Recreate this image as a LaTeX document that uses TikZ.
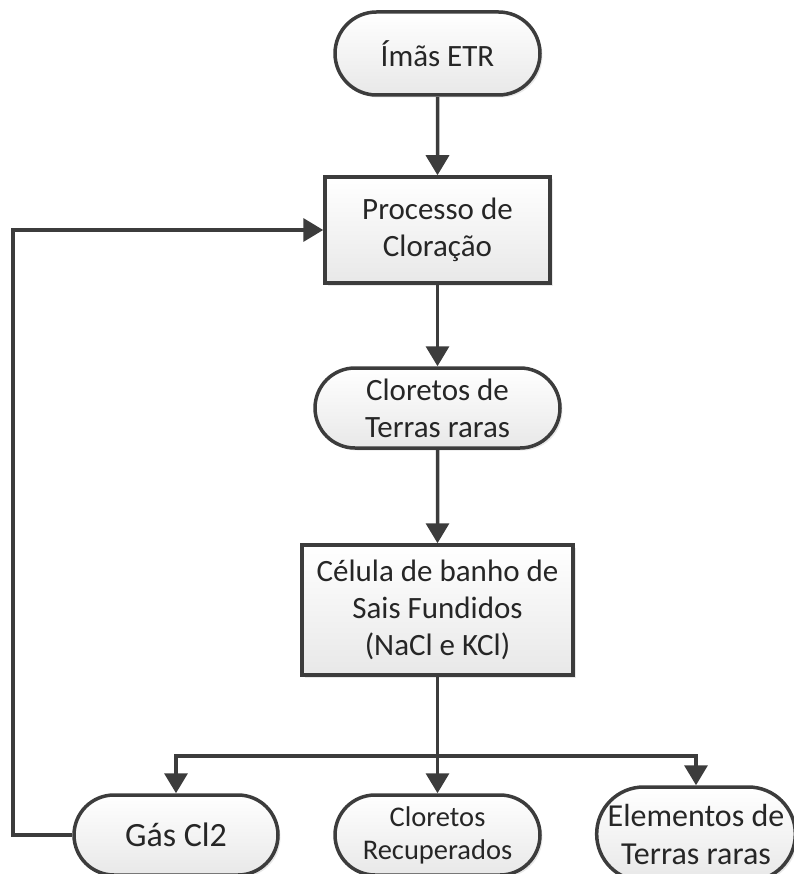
\documentclass[tikz,border=0pt]{standalone}
\usepackage{fontspec}
\setmainfont{Carlito}
\usetikzlibrary{shapes.misc,arrows.meta,shadows}
\definecolor{linec}{HTML}{3C3C3C}
\definecolor{textc}{HTML}{262626}
\tikzset{
  base/.style={draw=linec, line width=3.5pt, top color=white, bottom color=black!9,
    text=textc, align=center, inner sep=0pt,
    drop shadow={opacity=0.18, shadow xshift=2.5pt, shadow yshift=-2.5pt},
    font=\fontsize{31}{37}\selectfont},
  stadium/.style={base, rounded rectangle},
  procbox/.style={base, rectangle},
  arr/.style={draw=linec, line width=3.5pt, -{Triangle[length=20pt,width=23pt]}},
  ln/.style={draw=linec, line width=3.5pt}
}
\begin{document}
\begin{tikzpicture}[x=1pt,y=1pt]
\useasboundingbox (0,0) rectangle (793,-874);
\node[stadium, minimum width=205pt, minimum height=83pt] (imas) at (437.5,-53.5) {Ímãs ETR};
\node[procbox, minimum width=225pt, minimum height=106pt] (proc) at (437.5,-230) {Processo de\\Cloração};
\node[stadium, minimum width=245pt, minimum height=80pt] (clor) at (437.5,-408) {Cloretos de\\Terras raras};
\node[procbox, minimum width=271pt, minimum height=130pt] (cel) at (437.5,-610) {Célula de banho de\\Sais Fundidos\\(NaCl e KCl)};
\node[stadium, minimum width=204pt, minimum height=80pt, font=\fontsize{34}{37}\selectfont] (gas) at (176,-835) {Gás Cl2};
\node[stadium, minimum width=205pt, minimum height=80pt, font=\fontsize{28.5}{33}\selectfont] (rec) at (437.5,-835) {Cloretos\\Recuperados};
\node[stadium, minimum width=192pt, minimum height=94pt, font=\fontsize{32}{38}\selectfont] (elem) at (696,-834) {Elementos de\\Terras raras};
\coordinate (split) at (437.5,-756);
\coordinate (fb) at (13,-835);
\draw[arr] (imas) -- (proc);
\draw[arr] (proc) -- (clor);
\draw[arr] (clor) -- (cel);
\draw[arr] (cel) -- (rec);
\draw[arr] (split) -| (gas.north);
\draw[arr] (split) -| (elem.north);
\draw[arr] (gas.west) -- (fb) |- (proc.west);
\end{tikzpicture}
\end{document}
